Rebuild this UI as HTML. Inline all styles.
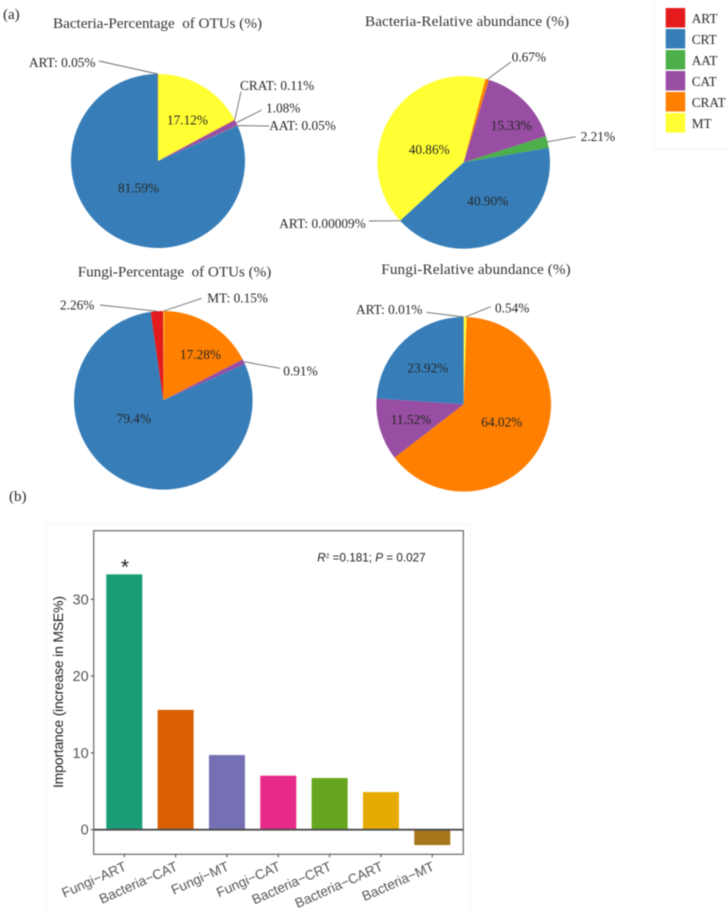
<!DOCTYPE html>
<html lang="en">
<head>
<meta charset="utf-8">
<title>Bacteria and fungi pie charts with importance bar chart</title>
<style>
  html, body { margin: 0; padding: 0; background: #fff; }
  #figure { display: block; width: 728px; height: 911px; filter: blur(0.45px); }
  .serif { font-family: "Liberation Serif", serif; fill: #262626; font-size: 13.3px; }
  .title { font-size: 15.2px; fill: #333; white-space: pre; }
  .panel { font-size: 15px; }
  .sans { font-family: "Liberation Sans", sans-serif; }
</style>
</head>
<body>
<svg id="figure" xmlns="http://www.w3.org/2000/svg" width="728" height="911" viewBox="0 0 728 911">
  <rect x="654" y="-1" width="80" height="150" fill="#fff" stroke="#f3f3f3"/>
  <rect x="46.5" y="524.5" width="424" height="390" fill="#fff" stroke="#f5f5f5"/>

  <text class="serif panel" x="3" y="19">(a)</text>
  <text class="serif panel" x="9" y="501">(b)</text>

  <text class="serif title" x="53" y="28" textLength="209">Bacteria-Percentage  of OTUs (%)</text>
  <text class="serif title" x="365" y="26" textLength="204">Bacteria-Relative abundance (%)</text>
  <text class="serif title" x="77.7" y="276.7" textLength="193.6">Fungi-Percentage  of OTUs (%)</text>
  <text class="serif title" x="381.3" y="274" textLength="189.4">Fungi-Relative abundance (%)</text>

  <g id="pies"></g>
  <g id="legend"></g>
  <g id="bars"></g>
</svg>

<script>
// ---- Pie chart data ----
const legendCategories = ['ART', 'CRT', 'AAT', 'CAT', 'CRAT', 'MT'];
const legendColors = ['#E41A1C', '#377EB8', '#4DAF4A', '#984EA3', '#FF7F00', '#FFFF33'];

const bacteriaOtuCategories = ['MT', 'CRAT', 'CAT', 'AAT', 'CRT', 'ART'];
const bacteriaOtuValues = [17.12, 0.11, 1.08, 0.05, 81.59, 0.05];
const bacteriaOtuPrinted = ['17.12%', 'CRAT: 0.11%', '1.08%', 'AAT: 0.05%', '81.59%', 'ART: 0.05%'];

const bacteriaAbundanceCategories = ['MT', 'CRAT', 'CAT', 'AAT', 'CRT', 'ART'];
const bacteriaAbundanceValues = [40.86, 0.67, 15.33, 2.21, 40.90, 0.00009];
const bacteriaAbundancePrinted = ['40.86%', '0.67%', '15.33%', '2.21%', '40.90%', 'ART: 0.00009%'];

const fungiOtuCategories = ['MT', 'CRAT', 'CAT', 'CRT', 'ART'];
const fungiOtuValues = [0.15, 17.28, 0.91, 79.4, 2.26];
const fungiOtuPrinted = ['MT: 0.15%', '17.28%', '0.91%', '79.4%', '2.26%'];

const fungiAbundanceCategories = ['MT', 'CRAT', 'CAT', 'CRT', 'ART'];
const fungiAbundanceValues = [0.54, 64.02, 11.52, 23.92, 0.01];
const fungiAbundancePrinted = ['0.54%', '64.02%', '11.52%', '23.92%', 'ART: 0.01%'];

// ---- Bar chart data ----
const barCategories = ['Fungi\u2212ART', 'Bacteria\u2212CAT', 'Fungi\u2212MT', 'Fungi\u2212CAT', 'Bacteria\u2212CRT', 'Bacteria\u2212CART', 'Bacteria\u2212MT'];
const barValues = [33.25, 15.6, 9.72, 7.03, 6.73, 4.9, -2.0];
const barColors = ['#1B9E77', '#D95F02', '#7570B3', '#E7298A', '#66A61E', '#E6AB02', '#A6761D'];
const yTicks = [0, 10, 20, 30];

// ---- Layout (label placement only, separate from data) ----
const layoutBacteriaOtu = {
  MT: { x: 167, y: 124.7 }, CRT: { x: 118, y: 192.5 },
  CRAT: { x: 240, y: 90, lx: 241, ly: 91.7 },
  CAT: { x: 266, y: 112.7, lx: 261.7, ly: 110 },
  AAT: { x: 269.3, y: 130, lx: 269, ly: 126 },
  ART: { x: 29, y: 67, lx: 99, ly: 61 }
};
const layoutBacteriaAbundance = {
  MT: { x: 408.7, y: 154 }, CRT: { x: 467.3, y: 205.3 }, CAT: { x: 490.7, y: 130 },
  CRAT: { x: 511.7, y: 61.7, lx: 511, ly: 62 },
  AAT: { x: 580.7, y: 141, lx: 575.7, ly: 136.7 },
  ART: { x: 279.3, y: 228, lx: 369, ly: 221 }
};
const layoutFungiOtu = {
  CRAT: { x: 180, y: 359 }, CRT: { x: 116.7, y: 423 },
  MT: { x: 207.3, y: 302.7, lx: 201.7, ly: 298.3 },
  CAT: { x: 283.3, y: 375.7, lx: 280, ly: 368.3 },
  ART: { x: 60, y: 309.7, lx: 100, ly: 305 }
};
const layoutFungiAbundance = {
  CRAT: { x: 481.3, y: 426.7 }, CAT: { x: 390.7, y: 424 }, CRT: { x: 407.3, y: 372.7 },
  MT: { x: 495, y: 312.3, lx: 490.7, ly: 306.7 },
  ART: { x: 356, y: 314, lx: 426.3, ly: 312.3 }
};

const NS = 'http://www.w3.org/2000/svg';

function make(tag, parent, props) {
  const el = document.createElementNS(NS, tag);
  for (const key in props) el.setAttribute(key, props[key]);
  parent.appendChild(el);
  return el;
}

function colorOf(category) {
  return legendColors[legendCategories.indexOf(category)];
}

function polar(cx, cy, r, deg) {
  const a = deg * Math.PI / 180;
  return [cx + r * Math.sin(a), cy - r * Math.cos(a)];
}

function drawPie(pieName, cx, cy, r, startDeg, categories, values, printed, layout) {
  const root = document.getElementById('pies');
  const group = make('g', root, {});
  
  
  const total = values.reduce((s, v) => s + v, 0);
  let angle = startDeg;
  const labels = [];
  categories.forEach((cat, i) => {
    const sweep = values[i] / total * 360;
    const p0 = polar(cx, cy, r, angle);
    const p1 = polar(cx, cy, r, angle + sweep);
    const large = sweep > 180 ? 1 : 0;
    const d = 'M' + cx + ' ' + cy + 'L' + p0[0] + ' ' + p0[1] + 'A' + r + ' ' + r + ' 0 ' + large + ' 1 ' + p1[0] + ' ' + p1[1] + 'Z';
    const slice = make('path', group, { d: d, fill: colorOf(cat) });
    
    
    labels.push({ cat: cat, text: printed[i], mid: angle + sweep / 2 });
    angle += sweep;
  });
  labels.forEach((item) => {
    const place = layout[item.cat];
    if (place.lx !== undefined) {
      const rim = polar(cx, cy, r, item.mid);
      const leader = make('line', group, { x1: rim[0], y1: rim[1], x2: place.lx, y2: place.ly, stroke: '#6a6a6a', 'stroke-width': 0.9 });
      
      
    }
    const label = make('text', group, { x: place.x, y: place.y, class: 'serif' });
    label.textContent = item.text;
    
    
  });
}

drawPie('bacteria-otu-pie', 158, 161, 87, 0, bacteriaOtuCategories, bacteriaOtuValues, bacteriaOtuPrinted, layoutBacteriaOtu);
drawPie('bacteria-abundance-pie', 463.7, 162.4, 86.3, 227.5, bacteriaAbundanceCategories, bacteriaAbundanceValues, bacteriaAbundancePrinted, layoutBacteriaAbundance);
drawPie('fungi-otu-pie', 163.3, 400.3, 89.3, 0, fungiOtuCategories, fungiOtuValues, fungiOtuPrinted, layoutFungiOtu);
drawPie('fungi-abundance-pie', 463.7, 404.3, 87.3, 0, fungiAbundanceCategories, fungiAbundanceValues, fungiAbundancePrinted, layoutFungiAbundance);

// ---- Legend ----
(function () {
  const root = document.getElementById('legend');
  legendCategories.forEach((cat, i) => {
    const swatch = make('rect', root, { x: 665.7, y: 8 + i * 21, width: 19.5, height: 19.5, fill: legendColors[i] });
    
    
    const text = make('text', root, { x: 691.7, y: 23 + i * 21, class: 'serif' });
    text.textContent = cat;
    
    
  });
})();

// ---- Bar chart ----
(function () {
  const root = document.getElementById('bars');
  const panelLeft = 93.7, panelRight = 463.3, panelTop = 530.7, panelBottom = 854.3;
  const yZero = 829.7, pxPerUnit = 7.68;
  const firstCenter = 124.3, step = 51.33, barWidth = 36;
  const yScale = (v) => yZero - v * pxPerUnit;
  const xScale = (i) => firstCenter + i * step;

  barValues.forEach((v, i) => {
    const top = Math.min(yScale(v), yZero);
    const height = Math.abs(yScale(v) - yZero);
    const bar = make('rect', root, { x: xScale(i) - barWidth / 2, y: top, width: barWidth, height: height, fill: barColors[i] });
    
    
  });

  const zeroLine = make('line', root, { x1: panelLeft, x2: panelRight, y1: yScale(0), y2: yScale(0), stroke: '#4a4a4a', 'stroke-width': 1.8 });
  
  

  const frame = make('rect', root, { x: panelLeft, y: panelTop, width: panelRight - panelLeft, height: panelBottom - panelTop, fill: 'none', stroke: '#666', 'stroke-width': 1.2 });
  
  

  yTicks.forEach((t) => {
    const tick = make('line', root, { x1: panelLeft - 3, x2: panelLeft, y1: yScale(t), y2: yScale(t), stroke: '#444', 'stroke-width': 1 });
    
    
    const label = make('text', root, { x: panelLeft - 5, y: yScale(t) + 5, 'text-anchor': 'end', class: 'sans', 'font-size': 14.5, fill: '#555' });
    label.textContent = t;
    
    
  });

  barCategories.forEach((cat, i) => {
    const x = xScale(i);
    const tick = make('line', root, { x1: x, x2: x, y1: panelBottom, y2: panelBottom + 3, stroke: '#444', 'stroke-width': 1 });
    
    
    const ax = x + 3;
    const ay = panelBottom + 15.5;
    const label = make('text', root, { x: ax, y: ay, 'text-anchor': 'end', class: 'sans', 'font-size': 13.6, fill: '#555', transform: 'rotate(-24 ' + ax + ' ' + ay + ')' });
    label.textContent = cat;
    
    
  });

  const yTitle = make('text', root, { x: 63, y: 692, 'text-anchor': 'middle', class: 'sans', 'font-size': 14, fill: '#222', textLength: 192, transform: 'rotate(-90 63 692)' });
  yTitle.textContent = 'Importance (increase in MSE%)';
  
  

  const star = make('text', root, { x: xScale(0) + 0.7, y: yScale(barValues[0]) - 0.5, 'text-anchor': 'middle', class: 'sans', 'font-size': 21, fill: '#222' });
  star.textContent = '*';
  
  

  const stat = make('text', root, { x: 317.3, y: 561.7, class: 'sans', 'font-size': 11.7, fill: '#222' });
  
  
  const r = make('tspan', stat, { 'font-style': 'italic' });
  r.textContent = 'R';
  const sup = make('tspan', stat, { 'font-size': 6.5, dy: -3.5 });
  sup.textContent = '2';
  const mid = make('tspan', stat, { dy: 3.5 });
  mid.textContent = ' =0.181; ';
  const p = make('tspan', stat, { 'font-style': 'italic' });
  p.textContent = 'P';
  const tail = make('tspan', stat, {});
  tail.textContent = ' = 0.027';
})();
</script>
</body>
</html>
